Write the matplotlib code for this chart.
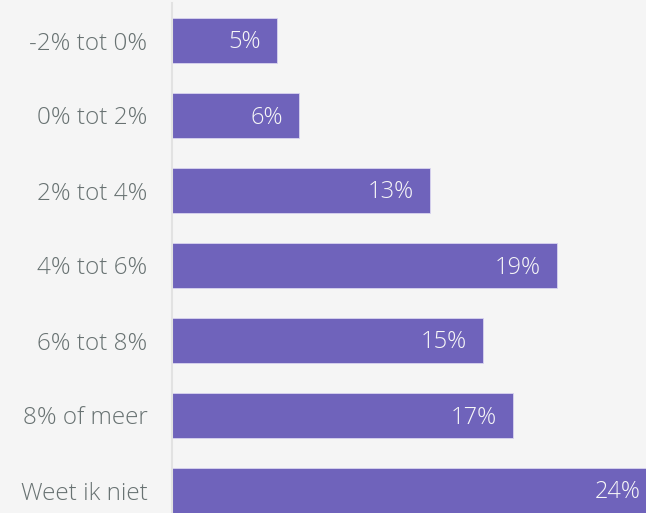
import matplotlib
matplotlib.use("Agg")
import matplotlib.pyplot as plt

categories = ["-2% tot 0%", "0% tot 2%", "2% tot 4%", "4% tot 6%", "6% tot 8%", "8% of meer", "Weet ik niet"]
values = [5.15, 6.24, 12.72, 19.0, 15.35, 16.83, 23.95]

BG = "#f5f5f5"
BAR = "#6f63bb"
TXT = "#687272"

plt.rcParams['font.family'] = ['Open Sans', 'DejaVu Sans']

fig = plt.figure(figsize=(6.46, 5.13), dpi=100, facecolor=BG)
ax = fig.add_axes([172.5/646, 0, (646-172.5)/646, 1], facecolor=BG)

y = list(range(len(categories)))
bars = ax.barh(y, values, height=0.6, color=BAR, edgecolor="#d9d4f0", linewidth=0.6, clip_on=True)
for yi, v in zip(y, values):
    ax.annotate(f"{round(v)}%", xy=(v, yi), xytext=(-16, -2), textcoords="offset pixels",
                ha="right", va="center", color="#f7f7f7", fontsize=17, fontweight="light",
                annotation_clip=False, clip_on=True)

ax.set_xlim(0, (646-173)/20.2)
ax.set_ylim(6.3, -0.54)
ax.set_yticks(y)
ax.set_yticklabels(categories, fontsize=17.5, color=TXT, fontweight="light")
ax.tick_params(axis="y", length=0, pad=18)
ax.set_xticks([])
for s in ["top", "right", "bottom"]:
    ax.spines[s].set_visible(False)
ax.spines["left"].set_color("#e2e2e2")
ax.spines["left"].set_linewidth(1.5)
ax.spines["left"].set_bounds(6.3, -0.5)

fig.savefig("out.png", dpi=100, facecolor=BG)
